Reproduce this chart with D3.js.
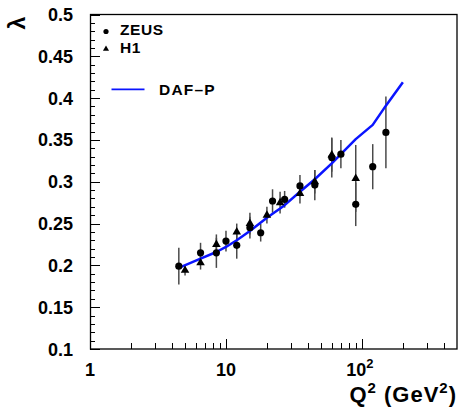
<!DOCTYPE html>
<html>
<head>
<meta charset="utf-8">
<script src="https://cdn.jsdelivr.net/npm/d3@7"></script>
<style>
  html, body { margin: 0; padding: 0; background: #fff; }
  svg { display: block; }
  text { font-family: "Liberation Sans", Arial, sans-serif; font-weight: bold; fill: #000; }
</style>
</head>
<body>
<svg id="chart" width="459" height="411"></svg>
<script>
// ZEUS measurements: Q^2 (GeV^2), lambda, error
const zeusQ2  = [4.5, 6.5, 8.5, 10, 12, 15, 18, 22, 27, 35, 45, 60, 70, 90, 120, 150];
const zeusLam = [0.199, 0.215, 0.215, 0.229, 0.224, 0.245, 0.239, 0.277, 0.279, 0.295, 0.296, 0.329, 0.333, 0.273, 0.318, 0.359];
const zeusErr = [0.022, 0.012, 0.018, 0.0125, 0.016, 0.013, 0.0105, 0.014, 0.010, 0.013, 0.018, 0.024, 0.017, 0.026, 0.027, 0.043];

// H1 measurements
const h1Q2  = [5.0, 6.5, 8.5, 12, 15, 20, 25, 35, 45, 60, 90];
const h1Lam = [0.194, 0.203, 0.225, 0.240, 0.250, 0.260, 0.275, 0.286, 0.300, 0.332, 0.304];
const h1Err = [0.006, 0.008, 0.012, 0.010, 0.013, 0.010, 0.013, 0.012, 0.014, 0.020, 0.040];

// DAF-P model curve
const dafQ2  = [4.5, 6.5, 8.5, 10, 12, 15, 20, 25, 27, 35, 45, 60, 70, 90, 120, 150, 200];
const dafLam = [0.197, 0.208, 0.216, 0.222, 0.230, 0.241, 0.257, 0.268, 0.272, 0.288, 0.303, 0.322, 0.333, 0.351, 0.368, 0.391, 0.419];

// Axis tick labels
const yTickValues = [0.1, 0.15, 0.2, 0.25, 0.3, 0.35, 0.4, 0.45, 0.5];
const yTickLabels = ["0.1", "0.15", "0.2", "0.25", "0.3", "0.35", "0.4", "0.45", "0.5"];
const xTickValues = [1, 10, 100];
const xTickLabels = [["1", ""], ["10", ""], ["10", "2"]];

const svg = d3.select("#chart");
const L = 90, R = 457, T = 14.5, B = 349;

const x = d3.scaleLog().domain([1, 500]).range([L, R]);
const y = d3.scaleLinear().domain([0.1, 0.5]).range([B, T]);

// Frame
svg.append("rect")
  .attr("x", L + 0.5).attr("y", T).attr("width", R - L - 0.5).attr("height", B - T)
  .attr("fill", "none").attr("stroke", "#000").attr("stroke-width", 1.3);

// Y ticks (major every 0.05, minor every 0.01), drawn inward from the left edge
const yMinor = d3.range(10, 51).map(d => d / 100);
svg.append("g").selectAll("line").data(yMinor).join("line")
  .attr("x1", L).attr("x2", (d, i) => L + (i % 5 === 0 ? 10 : 5))
  .attr("y1", d => Math.round(y(d)) + 0.5).attr("y2", d => Math.round(y(d)) + 0.5)
  .attr("stroke", "#000").attr("stroke-width", 1);

svg.append("g").selectAll("text").data(yTickValues).join("text")
  .attr("x", 73).attr("y", d => y(d) + 6.5)
  .attr("text-anchor", "end").attr("font-size", 18)
  .text((d, i) => yTickLabels[i]);

// X ticks: log minor ticks
const xMinor = [];
[1, 10, 100].forEach(dec => { for (let k = 1; k <= 9; k++) if (dec * k <= 500) xMinor.push(dec * k); });
svg.append("g").selectAll("line").data(xMinor.filter(d => d > 1 && d < 500)).join("line")
  .attr("x1", d => Math.round(x(d)) + 0.5).attr("x2", d => Math.round(x(d)) + 0.5)
  .attr("y1", B).attr("y2", d => B - (xTickValues.includes(d) ? 10 : 6))
  .attr("stroke", "#000").attr("stroke-width", 1);

const xl = svg.append("g").selectAll("text").data(xTickValues).join("text")
  .attr("x", (d, i) => x(d) + (i === 2 ? -2 : 0)).attr("y", 376)
  .attr("text-anchor", "middle").attr("font-size", 18);
xl.append("tspan").text((d, i) => xTickLabels[i][0]);
xl.append("tspan").attr("dy", -8).attr("font-size", 13).text((d, i) => xTickLabels[i][1]);

// Axis titles
const xt = svg.append("text").attr("x", 457).attr("y", 402).attr("text-anchor", "end")
  .attr("font-size", 22).attr("letter-spacing", 1);
xt.append("tspan").text("Q");
xt.append("tspan").attr("dy", -9).attr("font-size", 15).text("2");
xt.append("tspan").attr("dy", 9).text(" (GeV");
xt.append("tspan").attr("dy", -9).attr("font-size", 15).text("2");
xt.append("tspan").attr("dy", 9).text(")");

svg.append("text")
  .attr("transform", "translate(25,23) rotate(-90)")
  .attr("text-anchor", "middle").attr("font-size", 23)
  .text("λ");

// Error bars
const errColor = "#4a4a4a";
function errBars(qs, ls, es) {
  svg.append("g").selectAll("line").data(qs).join("line")
    .attr("x1", d => x(d)).attr("x2", d => x(d))
    .attr("y1", (d, i) => y(ls[i] - es[i])).attr("y2", (d, i) => y(ls[i] + es[i]))
    .attr("stroke", errColor).attr("stroke-width", 1.5);
}
errBars(zeusQ2, zeusLam, zeusErr);
errBars(h1Q2, h1Lam, h1Err);

// DAF-P curve
const line = d3.line().x(d => x(d[0])).y(d => y(d[1]));
svg.append("path")
  .datum(dafQ2.map((q, i) => [q, dafLam[i]]))
  .attr("d", line).attr("fill", "none")
  .attr("stroke", "#0a14ff").attr("stroke-width", 2.5).attr("stroke-linejoin", "round");

// Markers
const tri = d3.symbol().type(d3.symbolTriangle);
svg.append("g").selectAll("path").data(h1Q2).join("path")
  .attr("d", tri.size(32)())
  .attr("transform", (d, i) => `translate(${x(d)},${y(h1Lam[i])})`)
  .attr("fill", "#000");
svg.append("g").selectAll("circle").data(zeusQ2).join("circle")
  .attr("cx", d => x(d)).attr("cy", (d, i) => y(zeusLam[i]))
  .attr("r", 3.6).attr("fill", "#000");

// Legend
svg.append("circle").attr("cx", 106).attr("cy", 31.5).attr("r", 2.6).attr("fill", "#000");
svg.append("text").attr("x", 120).attr("y", 35).attr("font-size", 15.5).attr("letter-spacing", 0.6).text("ZEUS");
svg.append("path").attr("d", tri.size(16)()).attr("transform", "translate(106,49)").attr("fill", "#000");
svg.append("text").attr("x", 120).attr("y", 52.5).attr("font-size", 15.5).attr("letter-spacing", 0.6).text("H1");
svg.append("line").attr("x1", 111.5).attr("x2", 144.5).attr("y1", 89.3).attr("y2", 89.3)
  .attr("stroke", "#0a14ff").attr("stroke-width", 1.8);
svg.append("text").attr("x", 159).attr("y", 94.5).attr("font-size", 15.5).attr("letter-spacing", 1.2).text("DAF–P");
</script>
</body>
</html>
